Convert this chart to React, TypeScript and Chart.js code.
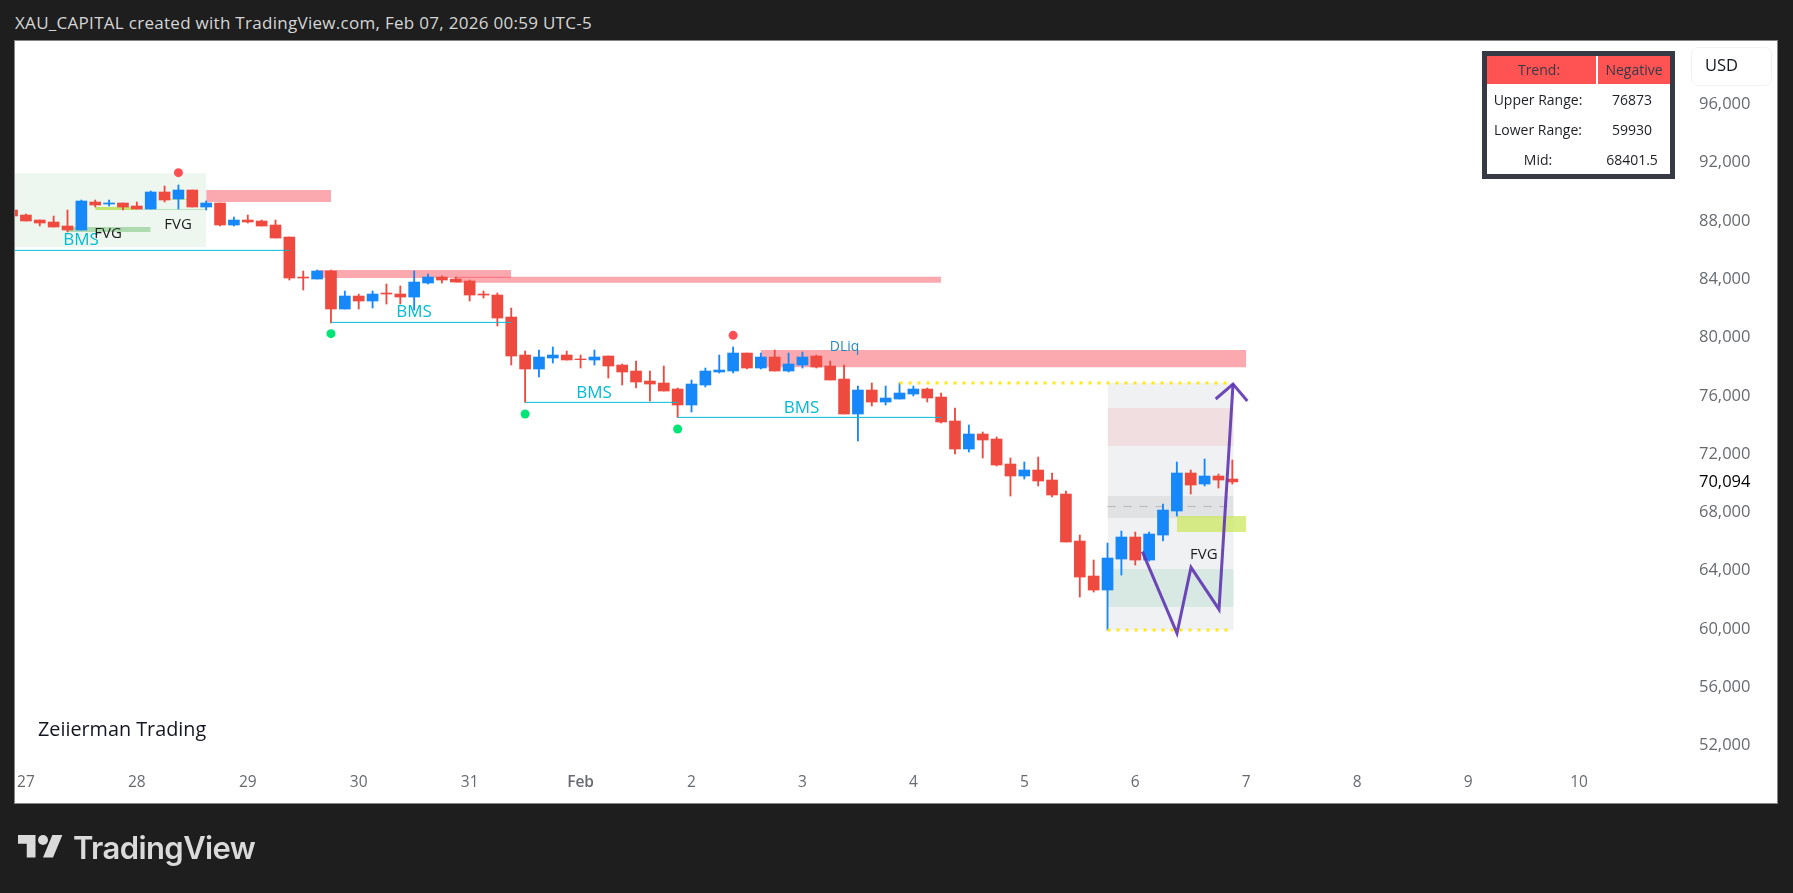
import React, { useEffect, useRef } from "react";
import { Chart, registerables } from "chart.js";

Chart.register(...registerables);

// ---------- data ----------
const firstCandle = -1; // candle slots are 3h apart; slot 0 = Jan 27 00:00
const opens = [88748,88405,88062,87925,87651,87376,89297,89160,89229,89023,88817,89983,89503,90120,88954,89229,87719,88062,87994,87719,86896,84151,84014,84563,81956,82848,82505,83054,82985,82779,83740,84151,84014,83877,82985,82916,81407,78801,77841,78595,78801,78527,78458,78732,78115,77703,77017,76880,76468,75371,76743,77635,77703,78938,77909,78664,77703,78115,78732,78046,77154,74753,76400,75576,75782,76125,76469,75920,74274,72353,73382,73039,71323,70500,70912,70226,69265,66040,63639,62678,64805,66315,64737,66452,68099,70706,69951,70500,70294];
const highs = [88760,88474,88062,88337,88748,89434,89434,89434,89229,89297,90052,90395,90464,90120,89366,89229,88268,88405,88062,88062,86896,84563,84632,84632,83191,82985,83191,83671,83534,84563,84357,84220,84151,83946,83191,83054,82025,79075,79144,79350,79075,78801,79144,78732,78184,78389,77703,78046,76537,77086,77909,78801,79350,78938,78938,79144,78938,79007,78801,78389,78115,76674,76880,76674,76880,76674,76538,76195,75166,73999,73519,73176,71735,71461,71804,70706,69471,66452,64737,65903,66726,66658,66658,68579,71461,70912,71666,70637,71598];
const lows = [88337,87994,87651,87582,87239,87376,88954,89023,88748,88817,88817,89297,88817,88954,88748,87651,87651,87856,87651,86827,83946,83259,84014,80995,81956,81956,82025,82299,82299,81887,83671,83740,83808,82505,82711,80790,78114,75554,77292,78252,78458,77909,78115,77223,76743,76537,75645,76331,74524,74890,76606,77566,77566,77841,77841,77703,77635,77909,77909,77086,74753,72901,75302,75371,75782,75988,75577,74136,72009,72147,71735,71186,69128,70294,69814,69059,65972,62198,62541,59934,63708,64394,64668,66040,67756,69265,69814,69677,69951];
const closes = [88337,87994,87856,87582,87376,89366,89091,89229,88954,88817,89983,89434,90120,88954,89229,87719,88062,87925,87651,86827,84083,84083,84563,81956,82848,82505,82985,82985,82779,83808,84151,83946,83808,82916,82916,81338,78731,77841,78664,78801,78458,78481,78664,78046,77635,76949,76811,76331,75371,76811,77703,77772,78938,77909,78664,77703,78184,78664,77978,77086,74753,76400,75576,75851,76194,76468,75852,74205,72353,73382,72970,71255,70500,70912,70157,69196,65972,63570,62678,64874,66315,64737,66521,68167,70706,69883,70500,70226,70094];
const lastPrice = 70094;
const priceTicks = [52000,56000,60000,64000,68000,72000,76000,80000,84000,88000,92000,96000];
const dayLabels = ["27","28","29","30","31","Feb","2","3","4","5","6","7","8","9","10"];

const zoneStart  = [78,    78,    78,    78,    -0.8,  13,    21,    31,    53,    3,     5,     8,     10,    83];
const zoneEnd    = [87.1,  87.1,  87.1,  87.1,  13,    22,    35,    66,    88,    9,     8,     13,    12,    88];
const zoneTop    = [76873, 75166, 69128, 64119, 91264, 90120, 84632, 84176, 79144, 87582, 88954, 88817, 89503, 67756];
const zoneBottom = [59930, 72558, 67618, 61512, 86187, 89297, 84083, 83764, 77955, 87239, 88748, 88748, 89434, 66658];

const bmsLineStart = [-0.8, 22, 36, 47];
const bmsLineEnd   = [19, 35, 47, 66];
const bmsLinePrice = [85981, 81041, 75554, 74524];
const upperRange = 76873;
const lowerRange = 59930;
const midRange = 68401.5;
const upperRangeSpan = [63, 86.7];
const lowerRangeSpan = [78, 86.7];
const midRangeSpan = [78, 87.1];

const arrowX = [80.51, 83.01, 84.02, 86.04, 87.05];
const arrowY = [65309, 59705, 64234, 61352, 76812];
const arrowHeadX = [85.8, 87.05, 88.08];
const arrowHeadY = [75783, 76812, 75646];

const redDotX = [11, 51];
const redDotY = [91310, 80150];
const greenDotX = [22, 36, 47];
const greenDotY = [80264, 74753, 73724];

const bmsTextX = [3.97, 27.99, 40.97, 55.94];
const bmsTextY = [86700, 81772, 76216, 75187];
const fvgTextX = [5.92, 10.97, 84.95];
const fvgTextY = [87103, 87720, 65082];
const dliqTextX = [59.04];
const dliqTextY = [79371];

const tableRows = [
  ["Upper Range:", "76873"],
  ["Lower Range:", "59930"],
  ["Mid:", "68401.5"],
];

// ---------- styles ----------
const RED = "#EF4A40";
const BLUE = "#1688F9";
const PINK = "rgba(247,82,95,0.5)";
const zoneFill = [
  "rgba(120,132,145,0.115)",
  "rgba(242,54,69,0.10)",
  "rgba(120,123,134,0.13)",
  "rgba(8,153,100,0.10)",
  "rgba(76,175,80,0.095)",
  PINK, PINK, PINK, PINK,
  "rgba(76,175,80,0.40)",
  "rgba(180,220,70,0.75)",
  "rgba(76,175,80,0.30)",
  "rgba(190,225,110,0.65)",
  "rgba(200,230,80,0.68)",
];
const FONT = '"Open Sans", "Noto Sans", sans-serif';
const TEXT = "Open Sans";

const PLOT = { left: 15, right: 1688, top: 41, bottom: 770 };
const FRAME = { left: 15, right: 1777, top: 41, bottom: 803 };

const textPlugin = {
  id: "chartTexts",
  afterDatasetsDraw(chart: any) {
    const { ctx, scales } = chart;
    const put = (xs: number[], ys: number[], text: string, color: string, size: number) => {
      ctx.save();
      ctx.font = `${size}px "${TEXT}"`;
      ctx.fillStyle = color;
      ctx.textAlign = "center";
      ctx.textBaseline = "middle";
      xs.forEach((x, k) => ctx.fillText(text, scales.x.getPixelForValue(x), scales.y.getPixelForValue(ys[k])));
      ctx.restore();
    };
    put(bmsTextX, bmsTextY, "BMS", "#00BCD4", 17);
    put(fvgTextX, fvgTextY, "FVG", "#1c1c1c", 15);
    put(dliqTextX, dliqTextY, "DLiq", "#2A86BF", 14);
  },
};

export default function App() {
  const ref = useRef<HTMLCanvasElement>(null);
  useEffect(() => {
    const xs = opens.map((_, k) => k + firstCandle);
    const colors = opens.map((o, k) => (closes[k] >= o ? BLUE : RED));
    const line = (pts: { x: number; y: number }[], extra: any) => ({
      type: "line",
      data: pts,
      pointRadius: 0,
      borderWidth: 1,
      fill: false,
      tension: 0,
      ...extra,
    });
    const zones = zoneStart.map((a, k) =>
      line(
        [{ x: a, y: zoneTop[k] }, { x: zoneEnd[k], y: zoneTop[k] }],
        { fill: { value: zoneBottom[k] }, backgroundColor: zoneFill[k], borderWidth: 0, order: 40 - k }
      )
    );
    const bms = bmsLineStart.map((a, k) =>
      line(
        [{ x: a, y: bmsLinePrice[k] }, { x: bmsLineEnd[k], y: bmsLinePrice[k] }],
        { borderColor: "#00BCD4", borderWidth: 1, order: 6 }
      )
    );
    const dotted = { borderColor: "#FFE81A", borderWidth: 3, borderDash: [3, 6], order: 5 };
    const datasets: any[] = [
      ...zones,
      ...bms,
      line([{ x: upperRangeSpan[0], y: upperRange }, { x: upperRangeSpan[1], y: upperRange }], dotted),
      line([{ x: lowerRangeSpan[0], y: lowerRange }, { x: lowerRangeSpan[1], y: lowerRange }], dotted),
      line([{ x: midRangeSpan[0], y: midRange }, { x: midRangeSpan[1], y: midRange }], {
        borderColor: "#B4B6B8", borderWidth: 1, borderDash: [8, 8], order: 15,
      }),
      {
        type: "bar",
        data: xs.map((x, k) => ({ x, y: [lows[k], highs[k]] })),
        backgroundColor: colors,
        barThickness: 1.2,
        grouped: false,
        borderWidth: 0,
        order: 11,
      },
      {
        type: "bar",
        data: xs.map((x, k) => ({ x, y: [opens[k], closes[k]] })),
        backgroundColor: colors,
        barThickness: 11,
        grouped: false,
        borderWidth: 0,
        borderSkipped: false,
        order: 10,
      },
      {
        type: "scatter",
        data: redDotX.map((x, k) => ({ x, y: redDotY[k] })),
        pointRadius: 4.5,
        pointBackgroundColor: "#FF4F55",
        pointBorderWidth: 0,
        order: 4,
      },
      {
        type: "scatter",
        data: greenDotX.map((x, k) => ({ x, y: greenDotY[k] })),
        pointRadius: 4.5,
        pointBackgroundColor: "#00E676",
        pointBorderWidth: 0,
        order: 4,
      },
      line(arrowX.map((x, k) => ({ x, y: arrowY[k] })), {
        borderColor: "rgba(94,53,177,0.9)", borderWidth: 3, order: 1, borderJoinStyle: "miter",
      }),
      line(arrowHeadX.map((x, k) => ({ x, y: arrowHeadY[k] })), {
        borderColor: "rgba(94,53,177,0.9)", borderWidth: 3, order: 1, borderJoinStyle: "miter",
      }),
    ];
    const xAt = (px: number) => (px - 25.9) / 13.867;
    const yAt = (py: number) => 96000 - (py - 104.3) * 68.6;
    const chart = new Chart(ref.current!, {
      type: "bar",
      data: { datasets },
      plugins: [textPlugin],
      options: {
        animation: false,
        responsive: false,
        devicePixelRatio: 1,
        layout: {
          padding: {
            left: PLOT.left,
            top: PLOT.top,
            right: 1793 - FRAME.right,
            bottom: 893 - FRAME.bottom,
          },
        },
        plugins: { legend: { display: false }, tooltip: { enabled: false }, title: { display: false } },
        scales: {
          x: {
            type: "linear",
            offset: false,
            min: xAt(PLOT.left),
            max: xAt(PLOT.right),
            grid: { display: false, drawTicks: false },
            border: { display: false },
            afterFit: (s: any) => { s.height = FRAME.bottom - PLOT.bottom; },
            ticks: {
              stepSize: 8,
              includeBounds: false,
              autoSkip: false,
              maxRotation: 0,
              padding: 3,
              font: (c: any) => ({ family: TEXT, size: 15.5, weight: c.tick && c.tick.value === 40 ? "600" : "400" }),
              color: "#666a70",
              callback: (v: any) => dayLabels[Math.round(Number(v) / 8)] ?? "",
            },
          },
          y: {
            type: "linear",
            position: "right",
            min: yAt(PLOT.bottom),
            max: yAt(PLOT.top),
            grid: { display: false, drawTicks: false },
            border: { display: false },
            afterFit: (s: any) => { s.width = FRAME.right - PLOT.right; },
            afterBuildTicks: (s: any) => {
              s.ticks = [...priceTicks, lastPrice].sort((a, b) => a - b).map((value) => ({ value }));
            },
            ticks: {
              stepSize: 4000,
              includeBounds: false,
              autoSkip: false,
              crossAlign: "near",
              padding: 11,
              font: (c: any) => ({ family: TEXT, size: 16.5, weight: c.tick && c.tick.value === lastPrice ? "500" : "400" }),
              color: (c: any) => (c.tick && c.tick.value === lastPrice ? "#000000" : "#666a70"),
              callback: (v: any) => Number(v).toLocaleString("en-US"),
            },
          },
        },
      } as any,
    } as any);
    return () => chart.destroy();
  }, []);

  const abs = (s: React.CSSProperties): React.CSSProperties => ({ position: "absolute", whiteSpace: "nowrap", ...s });
  const cell = (cx: number, cy: number, t: string, color = "#1c1f26") => (
    <div key={t + cx} style={abs({ left: cx - 80, width: 160, top: cy - 11, height: 22, lineHeight: "22px", textAlign: "center", fontFamily: FONT, fontSize: 14, color })}>{t}</div>
  );

  return (
    <div style={{ position: "fixed", left: 0, top: 0, width: 1793, height: 893, background: "#1E1E1E", overflow: "hidden" }}>
      <div style={abs({ left: 15, top: 13, lineHeight: "20px", fontFamily: FONT, fontSize: 17, letterSpacing: 0.29, color: "#D6D6D6" })}>
        XAU_CAPITAL created with TradingView.com, Feb 07, 2026 00:59 UTC-5
      </div>
      <div style={abs({ left: FRAME.left - 1, top: FRAME.top - 1, width: FRAME.right - FRAME.left, height: FRAME.bottom - FRAME.top, background: "#FFFFFF", border: "1px solid #858585" })} />
      <canvas ref={ref} width={1793} height={893} style={{ position: "absolute", left: 0, top: 0, width: 1793, height: 893 }} />

      <div style={abs({ left: 1691, top: 47, width: 79, height: 37, border: "1px solid #F1F2F4", borderRadius: 7, background: "#fff" })} />
      <div style={abs({ left: 1705, top: 53, lineHeight: "24px", fontFamily: FONT, fontSize: 16.5, color: "#131722" })}>USD</div>

      <div style={abs({ left: 1482, top: 51, width: 183, height: 118, border: "5px solid #363A45", background: "#fff" })} />
      <div style={abs({ left: 1487, top: 56, width: 109, height: 28, background: "#FF5252" })} />
      <div style={abs({ left: 1598, top: 56, width: 72, height: 28, background: "#FF5252" })} />
      {cell(1539, 70, "Trend:", "#363A45")}
      {cell(1634, 70, "Negative", "#363A45")}
      {tableRows.map((r, k) => (
        <React.Fragment key={r[0]}>
          {cell(1538, 100 + k * 30, r[0])}
          {cell(1632, 100 + k * 30, r[1])}
        </React.Fragment>
      ))}

      <div style={abs({ left: 38, top: 716, lineHeight: "26px", fontFamily: FONT, fontSize: 19.8, color: "#131722" })}>Zeiierman Trading</div>

      <svg style={{ position: "absolute", left: 18, top: 829.5 }} width={45} height={35} viewBox="0 0 36 28">
        <path fill="#DADADA" d="M14 22H7V11H0V4h14v18zM28 22h-8l7.5-18h8L28 22z" />
        <circle fill="#DADADA" cx="20" cy="8" r="4" />
      </svg>
      <div style={abs({ left: 73, top: 828, lineHeight: "40px", fontFamily: '"Inter", sans-serif', fontWeight: 600, fontSize: 31, letterSpacing: -0.6, color: "#DADADA" })}>TradingView</div>
    </div>
  );
}
